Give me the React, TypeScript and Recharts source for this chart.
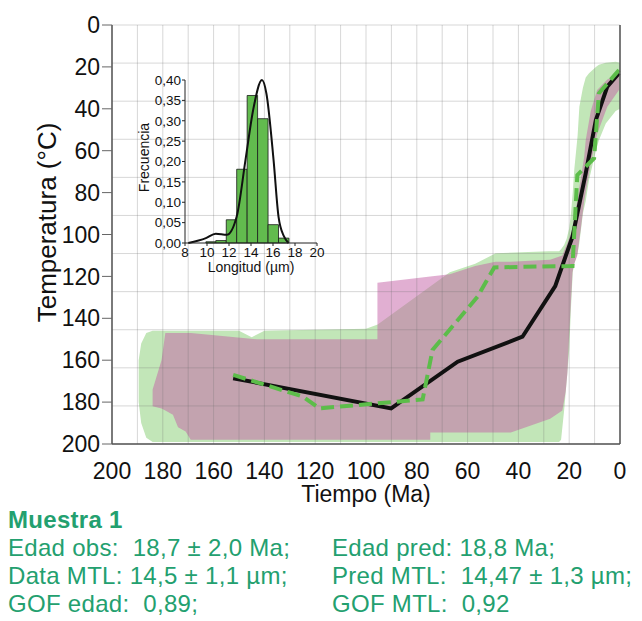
import React from "react";
import {
  Area,
  ComposedChart,
  Label,
  Line,
  ReferenceArea,
  ReferenceLine,
  XAxis,
  YAxis,
} from "recharts";

// main plot axes
const timeTicks = [200, 180, 160, 140, 120, 100, 80, 60, 40, 20, 0];
const tempTicks = [0, 20, 40, 60, 80, 100, 120, 140, 160, 180, 200];
// background grid: every 10 Ma, and 11 equal rows over 0-200 °C
const gridTimes = [0, 10, 20, 30, 40, 50, 60, 70, 80, 90, 100, 110, 120, 130, 140, 150, 160, 170, 180, 190, 200];
const gridRowCount = 11;
const gridTemps = Array.from({ length: gridRowCount + 1 }, (_, k) => (k * 200) / gridRowCount);

// [time Ma, upper T, lower T]
const acceptableEnvelope: [number, number, number][] = [
  [189.5, 160, 180],
  [188.5, 152, 190],
  [186.5, 147, 197],
  [184, 146, 199],
  [150, 146, 199],
  [145, 149, 199],
  [140, 146, 199],
  [100, 145, 199],
  [95.4, 143, 199],
  [67, 118, 199],
  [57, 114, 199],
  [49, 109, 199],
  [28, 108, 199],
  [24, 108, 199],
  [23.2, 107, 198],
  [22, 105, 184],
  [21, 102, 170],
  [20, 97, 155],
  [19.3, 90, 135],
  [18.6, 80, 118],
  [18, 69, 114],
  [16.7, 53, 109],
  [16, 39, 104],
  [14.6, 30, 90],
  [13.5, 25, 84],
  [12.2, 23, 74],
  [9.5, 20, 60],
  [8.3, 19, 55],
  [5.6, 18, 47],
  [1.7, 17.5, 41],
  [0, 18, 40],
];

const goodEnvelope: [number, number, number][] = [
  [184, 174, 182],
  [180.5, 160, 183],
  [179, 147, 184],
  [176, 147, 186],
  [174, 147, 192],
  [171, 147, 194],
  [169, 147, 198],
  [143, 150, 198],
  [95.5, 150, 198],
  [95.5, 123, 198],
  [74.7, 120, 198],
  [74.7, 120, 194.5],
  [67, 119, 194.5],
  [57, 115, 194.5],
  [49, 113, 194.5],
  [43, 113, 194.5],
  [27.5, 112, 188],
  [22.7, 110, 184],
  [21.4, 106, 175],
  [20.7, 104, 166],
  [20.1, 102, 150],
  [18.7, 98, 118],
  [18, 92, 114],
  [16.8, 84, 110],
  [16.1, 78, 103],
  [15.5, 74, 98],
  [14.1, 63, 84],
  [13.5, 55, 80],
  [11.5, 41, 66],
  [9, 31, 52],
  [5, 26, 39],
  [0.4, 23, 31],
];

// [time Ma, T]
const bestPath: [number, number][] = [
  [152.3, 168.6],
  [90.1, 183],
  [63.9, 160.7],
  [38.4, 148.8],
  [25.5, 124.6],
  [18.7, 101],
  [13.5, 70.8],
  [9.5, 45.3],
  [5, 29.4],
  [0.4, 23],
];

const meanPath: [number, number][] = [
  [152.3, 167],
  [124.8, 177.4],
  [118.3, 183],
  [77.7, 178.7],
  [73.8, 155.1],
  [56.1, 129.7],
  [49.5, 115.7],
  [18.7, 115],
  [16.8, 71.6],
  [10.2, 63.6],
  [8.3, 32.6],
  [0.4, 21.5],
];

// inset histogram
const lengthTicks = [8, 10, 12, 14, 16, 18, 20];
const freqTicks = [0, 0.05, 0.1, 0.15, 0.2, 0.25, 0.3, 0.35, 0.4];
// [bin start, bin end, frequency]
const lengthBins: [number, number, number][] = [
  [9.9, 10.8, 0.003],
  [10.8, 11.75, 0.006],
  [11.75, 12.7, 0.057],
  [12.7, 13.65, 0.181],
  [13.65, 14.6, 0.362],
  [14.6, 15.55, 0.305],
  [15.55, 16.5, 0.045],
  [16.5, 17.45, 0.012],
];
const densityCurve: [number, number][] = [
  [8.3, 0],
  [9.9, 0.012],
  [10.8, 0.023],
  [11.8, 0.02],
  [12.7, 0.065],
  [13.5, 0.204],
  [14.2, 0.327],
  [15.0, 0.4],
  [15.4, 0.367],
  [16.05, 0.204],
  [16.5, 0.065],
  [17.0, 0.016],
  [17.4, 0],
];

const FONT = "'Liberation Sans', Arial, sans-serif";
const TEXT_GREEN = "#23a06f";
const GRID = "rgba(110,110,110,0.28)";

const greenRows = acceptableEnvelope.map(([t, a, b]) => ({ t, range: [a, b] }));
const pinkRows = goodEnvelope.map(([t, a, b]) => ({ t, range: [a, b] }));
const bestRows = bestPath.map(([t, T]) => ({ t, T }));
const meanRows = meanPath.map(([t, T]) => ({ t, T }));
const densityRows = densityCurve.map(([x, f]) => ({ x, f }));

const comma = (v: number, d: number) => v.toFixed(d).replace(".", ",");

function Inset() {
  return (
    <ComposedChart
      width={200}
      height={220}
      data={densityRows}
      margin={{ top: 20, right: 13, bottom: 5, left: 0 }}
    >
      <XAxis
        dataKey="x"
        type="number"
        domain={[8, 20]}
        ticks={lengthTicks}
        interval={0}
        height={32}
        tickSize={3}
        tickMargin={1}
        stroke="#222"
        tick={{ fill: "#111", fontSize: 13.5 }}
      >
        <Label value="Longitud (µm)" position="insideBottom" offset={3} style={{ fill: "#111", fontSize: 14 }} />
      </XAxis>
      <YAxis
        type="number"
        domain={[0, 0.4]}
        ticks={freqTicks}
        interval={0}
        width={55}
        tickSize={3}
        tickMargin={1}
        stroke="#222"
        tick={{ fill: "#111", fontSize: 13.5 }}
        tickFormatter={(v: number) => comma(v, 2)}
      >
        <Label value="Frecuencia" angle={-90} position="center" dx={-13} dy={-4} style={{ fill: "#111", fontSize: 14 }} />
      </YAxis>
      {lengthBins.map(([x1, x2, h]) => (
        <ReferenceArea
          key={x1}
          x1={x1}
          x2={x2}
          y1={0}
          y2={h}
          fill="#62bb4e"
          fillOpacity={1}
          stroke="#1a1a1a"
          strokeWidth={0.8}
          strokeOpacity={1}
        />
      ))}
      <Line dataKey="f" type="monotone" stroke="#111" strokeWidth={2} dot={false} activeDot={false} isAnimationActive={false} />
    </ComposedChart>
  );
}

export default function App() {
  return (
    <div style={{ position: "absolute", left: 0, top: 0, width: 642, height: 621, background: "#fff", fontFamily: FONT }}>
      <ComposedChart width={642} height={516} margin={{ top: 25, right: 0, bottom: 8, left: 0 }}>
        <XAxis
          xAxisId="t"
          dataKey="t"
          type="number"
          domain={[0, 200]}
          reversed
          ticks={timeTicks}
          interval={0}
          height={64}
          tickLine={false}
          tickSize={0}
          tickMargin={19}
          axisLine={{ stroke: "#555", strokeWidth: 1.5 }}
          tick={{ fill: "#111", fontSize: 23 }}
        >
          <Label value="Tiempo (Ma)" position="insideBottom" offset={6} style={{ fill: "#111", fontSize: 23 }} />
        </XAxis>
        <YAxis
          yAxisId="temp"
          type="number"
          domain={[0, 200]}
          reversed
          ticks={tempTicks}
          interval={0}
          width={112}
          tickSize={10}
          tickMargin={2}
          stroke="#666"
          axisLine={{ stroke: "#555", strokeWidth: 1.5 }}
          tick={{ fill: "#111", fontSize: 23 }}
        >
          <Label value="Temperatura (°C)" angle={-90} position="center" dx={-9} dy={-12} style={{ fill: "#111", fontSize: 26 }} />
        </YAxis>
        <YAxis
          yAxisId="frame"
          orientation="right"
          type="number"
          domain={[0, 200]}
          width={22}
          tick={false}
          tickLine={false}
          axisLine={{ stroke: "#555", strokeWidth: 1.5 }}
        />
        <Area
          xAxisId="t"
          yAxisId="temp"
          data={greenRows}
          dataKey="range"
          type="linear"
          stroke="none"
          fill="#c2e6b8"
          fillOpacity={1}
          dot={false}
          activeDot={false}
          isAnimationActive={false}
        />
        <Area
          xAxisId="t"
          yAxisId="temp"
          data={pinkRows}
          dataKey="range"
          type="linear"
          stroke="none"
          fill="#c35fa5"
          fillOpacity={0.5}
          dot={false}
          activeDot={false}
          isAnimationActive={false}
        />
        {gridTimes.map((v) => (
          <ReferenceLine key={`gx${v}`} xAxisId="t" yAxisId="temp" x={v} stroke={GRID} strokeWidth={1} />
        ))}
        {gridTemps.map((v) => (
          <ReferenceLine key={`gy${v}`} xAxisId="t" yAxisId="temp" y={v} stroke={GRID} strokeWidth={1} />
        ))}
        <Line
          xAxisId="t"
          yAxisId="temp"
          data={bestRows}
          dataKey="T"
          type="linear"
          stroke="#111"
          strokeWidth={4}
          dot={false}
          activeDot={false}
          isAnimationActive={false}
        />
        <Line
          xAxisId="t"
          yAxisId="temp"
          data={meanRows}
          dataKey="T"
          type="linear"
          stroke="#5cbd4a"
          strokeWidth={4}
          strokeDasharray="13 6"
          dot={false}
          activeDot={false}
          isAnimationActive={false}
        />
      </ComposedChart>
      <div style={{ position: "absolute", left: 130, top: 60 }}>
        <Inset />
      </div>
      <div style={{ position: "absolute", left: 8, top: 506, color: TEXT_GREEN, fontSize: 24, letterSpacing: 0.3, lineHeight: "28px", whiteSpace: "pre" }}>
        <div style={{ fontWeight: "bold" }}>Muestra 1</div>
        <div>Edad obs:  18,7 ± 2,0 Ma;</div>
        <div>Data MTL: 14,5 ± 1,1 µm;</div>
        <div>GOF edad:  0,89;</div>
      </div>
      <div style={{ position: "absolute", left: 332, top: 534, color: TEXT_GREEN, fontSize: 24, letterSpacing: 0.3, lineHeight: "28px", whiteSpace: "pre" }}>
        <div>Edad pred: 18,8 Ma;</div>
        <div>Pred MTL:  14,47 ± 1,3 µm;</div>
        <div>GOF MTL:  0,92</div>
      </div>
    </div>
  );
}
